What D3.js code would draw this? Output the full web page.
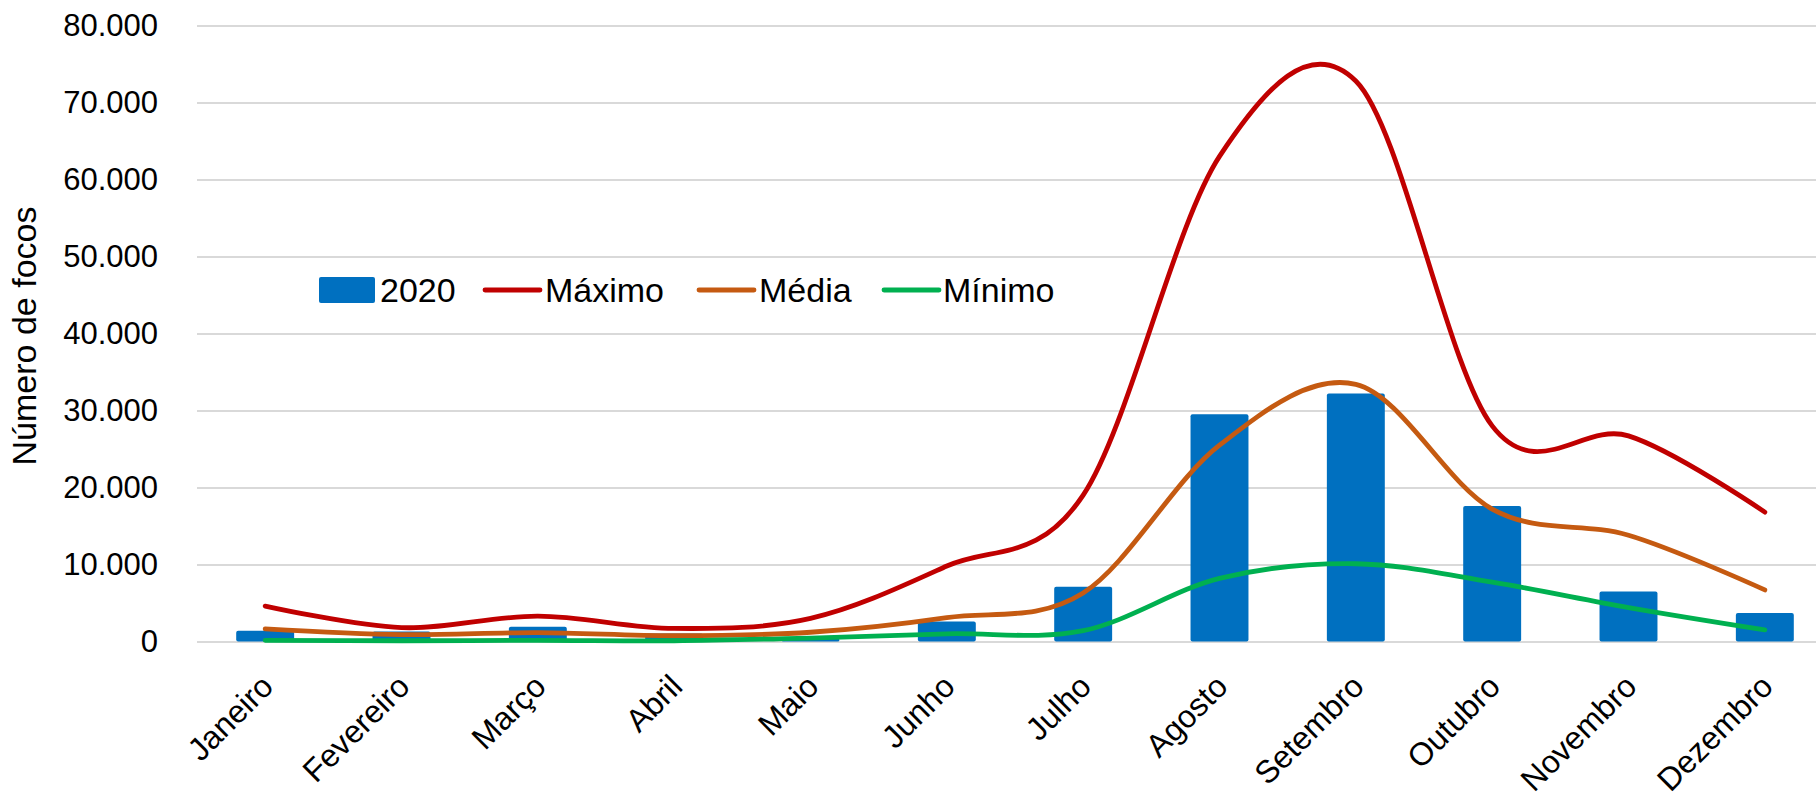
<!DOCTYPE html>
<html>
<head>
<meta charset="utf-8">
<script src="https://cdn.jsdelivr.net/npm/d3@7"></script>
<style>
  html, body { margin: 0; padding: 0; background: #fff; }
  svg { display: block; }
  text { font-family: "Liberation Sans", Arial, sans-serif; fill: #000; }
</style>
</head>
<body>
<svg id="chart" width="1816" height="802"></svg>
<script>
const months = ["Janeiro","Fevereiro","Março","Abril","Maio","Junho","Julho","Agosto","Setembro","Outubro","Novembro","Dezembro"];
const values2020 = [1400, 1300, 1900, 1050, 400, 2600, 7100, 29500, 32200, 17600, 6500, 3700];
const maximo = [4600, 1800, 3300, 1700, 3000, 9800, 19000, 63000, 72800, 28000, 26700, 16800];
const media  = [1650, 900, 1150, 750, 1200, 3100, 6300, 25500, 33400, 17200, 13800, 6700];
const minimo = [150, 100, 150, 100, 450, 1000, 1400, 8200, 10100, 7700, 4400, 1500];
const yTicks = [0, 10000, 20000, 30000, 40000, 50000, 60000, 70000, 80000];
const legendLabels = ["2020", "Máximo", "Média", "Mínimo"];
const yTitle = "Número de focos";

const colors = { bar: "#0070C0", max: "#C00000", media: "#C55A11", min: "#00B050", grid: "#D9D9D9" };

const svg = d3.select("#chart");
const plotLeft = 197, plotRight = 1833, plotTop = 25.5, plotBottom = 641.5;

const x = d3.scaleBand().domain(months).range([plotLeft, plotRight]).padding(0);
const y = d3.scaleLinear().domain([0, 80000]).range([plotBottom, plotTop]);

const loc = d3.formatLocale({ decimal: ",", thousands: ".", grouping: [3], currency: ["", ""] });
const fmt = loc.format(",d");

// gridlines + y labels
const yAxis = svg.append("g")
  .attr("transform", `translate(${plotLeft},0)`)
  .call(d3.axisLeft(y).tickValues(yTicks).tickSize(-(plotRight - plotLeft)).tickPadding(39).tickFormat(fmt));
yAxis.select(".domain").remove();
yAxis.selectAll(".tick line").attr("stroke", colors.grid).attr("stroke-width", 2.2);
yAxis.selectAll(".tick text").attr("font-size", 31).attr("font-family", "Liberation Sans, Arial, sans-serif").attr("fill", "#000");

// y title
svg.append("text")
  .attr("transform", `translate(36, 336) rotate(-90)`)
  .attr("text-anchor", "middle")
  .attr("font-size", 34)
  .text(yTitle);

// bars
const bw = x.bandwidth() * 0.425;
svg.append("g").selectAll("rect")
  .data(months)
  .join("rect")
  .attr("x", (d) => x(d) + x.bandwidth() / 2 - bw / 2)
  .attr("y", (d, i) => y(values2020[i]))
  .attr("width", bw)
  .attr("height", (d, i) => y(0) - y(values2020[i]))
  .attr("rx", 2)
  .attr("fill", colors.bar);

// lines
const line = d3.line()
  .x((d, i) => x(months[i]) + x.bandwidth() / 2)
  .y((d) => y(d))
  .curve(d3.curveCardinal.tension(0));

[[maximo, colors.max], [media, colors.media], [minimo, colors.min]].forEach(([arr, c]) => {
  svg.append("path")
    .datum(arr)
    .attr("d", line)
    .attr("fill", "none")
    .attr("stroke", c)
    .attr("stroke-width", 4.8)
    .attr("stroke-linecap", "round")
    .attr("stroke-linejoin", "round");
});

// x labels
const xAxis = svg.append("g")
  .attr("transform", `translate(0,${plotBottom})`)
  .call(d3.axisBottom(x).tickSize(0).tickPadding(0));
xAxis.select(".domain").remove();
xAxis.selectAll(".tick text")
  .attr("font-size", 32)
  .attr("font-family", "Liberation Sans, Arial, sans-serif")
  .attr("fill", "#000")
  .attr("text-anchor", "end")
  .attr("dy", null)
  .attr("y", 0)
  .attr("transform", "translate(10,47) rotate(-45)");

// legend
const leg = svg.append("g");
leg.append("rect").attr("x", 319).attr("y", 277).attr("width", 56).attr("height", 26).attr("rx", 2).attr("fill", colors.bar);
leg.append("text").attr("x", 380).attr("y", 302).attr("font-size", 34).text(legendLabels[0]);
const legItems = [
  { x1: 485, x2: 540, tx: 545, c: colors.max, label: legendLabels[1] },
  { x1: 699, x2: 754, tx: 759, c: colors.media, label: legendLabels[2] },
  { x1: 884, x2: 939, tx: 943, c: colors.min, label: legendLabels[3] }
];
legItems.forEach(it => {
  leg.append("line").attr("x1", it.x1).attr("x2", it.x2).attr("y1", 290).attr("y2", 290)
    .attr("stroke", it.c).attr("stroke-width", 4.8).attr("stroke-linecap", "round");
  leg.append("text").attr("x", it.tx).attr("y", 302).attr("font-size", 34).text(it.label);
});
</script>
</body>
</html>
